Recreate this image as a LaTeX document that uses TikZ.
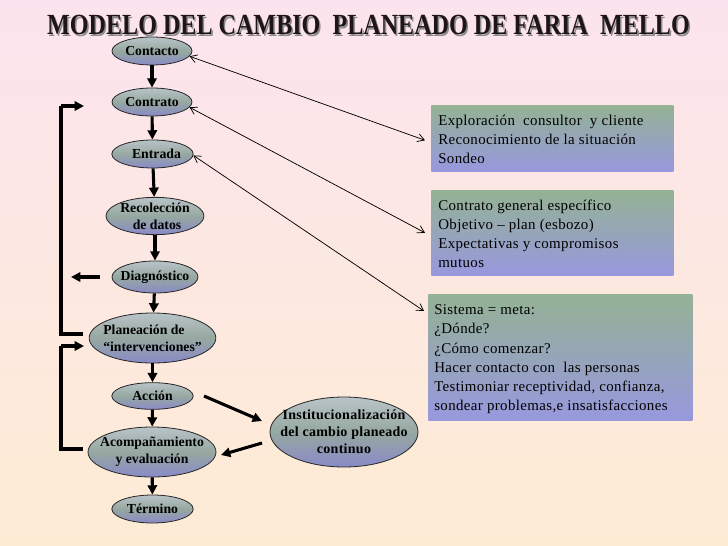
\documentclass[tikz,border=0pt]{standalone}
\usepackage{fontspec}
\setmainfont{Liberation Serif}
\usetikzlibrary{shapes.geometric,arrows.meta,calc}
\definecolor{bgTop}{RGB}{252,228,238}
\definecolor{bgBot}{RGB}{253,236,212}
\definecolor{eTop}{RGB}{185,195,200}
\definecolor{eMid}{RGB}{150,168,160}
\definecolor{eBot}{RGB}{138,138,200}
\definecolor{bTop}{RGB}{148,178,148}
\definecolor{bBot}{RGB}{152,152,222}
\definecolor{titleC}{RGB}{30,20,25}
\begin{document}
\begin{tikzpicture}[x=0.75pt,y=-0.75pt,
 ell/.style={ellipse,draw=black!85,line width=0.6pt,inner sep=0pt,top color=eTop,bottom color=eBot,middle color=eMid},
 etext/.style={font=\bfseries\fontsize{10.3}{12.75}\selectfont,align=center,inner sep=0pt},
 info/.style={rectangle,inner sep=0pt,top color=bTop,bottom color=bBot,anchor=north west},
 itext/.style={font=\fontsize{11.2}{14.4}\selectfont\addfontfeature{LetterSpace=2.5},align=left,anchor=north west,inner sep=0pt},
 flow/.style={line width=2.3pt,-{Triangle[length=7pt,width=7pt]}},
 thick line/.style={line width=2.3pt},
 link/.style={line width=0.55pt,{Straight Barb[length=5pt,width=6pt]}-{Straight Barb[length=5pt,width=6pt]}}
]
% background
\shade[top color=bgTop,bottom color=bgBot] (0,0) rectangle (728,546);
\useasboundingbox (0,0) rectangle (728,546);

% title
\node[text=black!45,inner sep=0pt] (tshadow) at (370,26.5) {\resizebox{482pt}{14.5pt}{\bfseries MODELO DEL CAMBIO\ \ PLANEADO DE FARIA\ \ MELLO}};
\node[text=titleC,inner sep=0pt] (title) at (368.5,25) {\resizebox{482pt}{14.5pt}{\bfseries MODELO DEL CAMBIO\ \ PLANEADO DE FARIA\ \ MELLO}};

% ellipses
\node[ell,minimum width=60pt,minimum height=21pt] (c1) at (152,51) {};
\node[etext] (t1) at (c1) {Contacto};
\node[ell,minimum width=60pt,minimum height=21pt] (c2) at (152,102) {};
\node[etext] (t2) at (c2) {Contrato};
\node[ell,minimum width=61pt,minimum height=21pt] (c3) at (152.5,154) {};
\node[etext] (t3) at (c3) {\hspace*{6pt}Entrada};
\node[ell,minimum width=73.5pt,minimum height=28pt] (c4) at (155,216) {};
\node[etext] (t4) at (c4) {Recolección\\\hspace*{3pt}de datos};
\node[ell,minimum width=64.5pt,minimum height=24pt] (c5) at (155,277) {};
\node[etext] (t5) at (c5) {Diagnóstico};
\node[ell,minimum width=95pt,minimum height=37.5pt] (c6) at (152.5,338) {};
\node[etext,align=left] (t6) at (c6) {Planeación de\\“intervenciones”};
\node[ell,minimum width=61pt,minimum height=20pt] (c7) at (152.5,396) {};
\node[etext] (t7) at (c7) {Acción};
\node[ell,minimum width=96pt,minimum height=37.5pt] (c8) at (152,452) {};
\node[etext] (t8) at (c8) {Acompañamiento\\y evaluación};
\node[ell,minimum width=61pt,minimum height=21pt] (c9) at (152.5,509) {};
\node[etext] (t9) at (c9) {Término};
\node[ell,minimum width=111pt,minimum height=52.5pt] (c10) at (344,432) {};
\node[etext,font=\bfseries\fontsize{10.5}{12.75}\selectfont\addfontfeature{LetterSpace=2}] (t10) at (c10) {Institucionalización\\del cambio planeado\\continuo};

% info boxes
\node[info,minimum width=181.5pt,minimum height=49.5pt] (b1) at (431,105) {};
\node[itext] (i1) at (438,114.5) {Exploración\ \ consultor\ \ y cliente\\Reconocimiento de la situación\\Sondeo};
\node[info,minimum width=181.5pt,minimum height=63.75pt] (b2) at (431,190) {};
\node[itext] (i2) at (438,199.5) {Contrato general específico\\Objetivo – plan (esbozo)\\Expectativas y compromisos\\mutuos};
\node[info,minimum width=198pt,minimum height=94.5pt] (b3) at (428,294) {};
\node[itext] (i3) at (434,304.5) {Sistema = meta:\\¿Dónde?\\¿Cómo comenzar?\\Hacer contacto con\ \ las personas\\Testimoniar receptividad, confianza,\\sondear problemas,e insatisfacciones};

% vertical flow
\draw[flow] (c1) -- (c2);
\draw[flow] (c2) -- (c3);
\draw[flow] (c3) -- (c4);
\draw[flow] (c4) -- (c5);
\draw[flow] (c5) -- (c6);
\draw[flow] (c6) -- (c7);
\draw[flow] (c7) -- (c8);
\draw[flow] (c8) -- (c9);

% loops
\coordinate (a1) at (83,334);
\coordinate (k1) at (61,106);
\coordinate (a2) at (84,106);
\draw[thick line] (a1) -| (k1);
\draw[flow] (k1) -- (a2);
\coordinate (a3) at (83,449);
\coordinate (k2) at (61,346);
\coordinate (a4) at (84,346);
\draw[thick line] (a3) -| (k2);
\draw[flow] (k2) -- (a4);
\coordinate (d1) at (100,277);
\coordinate (d2) at (71,277);
\draw[flow] (d1) -- (d2);

% institucionalizacion arrows
\coordinate (x1) at (204,396);
\coordinate (x2) at (262,421);
\draw[flow] (x1) -- (x2);
\coordinate (x3) at (262,443);
\coordinate (x4) at (221,455);
\draw[flow] (x3) -- (x4);

% thin links
\draw[link] (c1.-8) -- ($(b1.west)+(-6,2)$);
\draw[link] (c2.-8) -- ($(b2.west)+(-6,0)$);
\draw[link] (c3.-2) -- ($(b3.north west)+(-4,17)$);
\end{tikzpicture}
\end{document}
